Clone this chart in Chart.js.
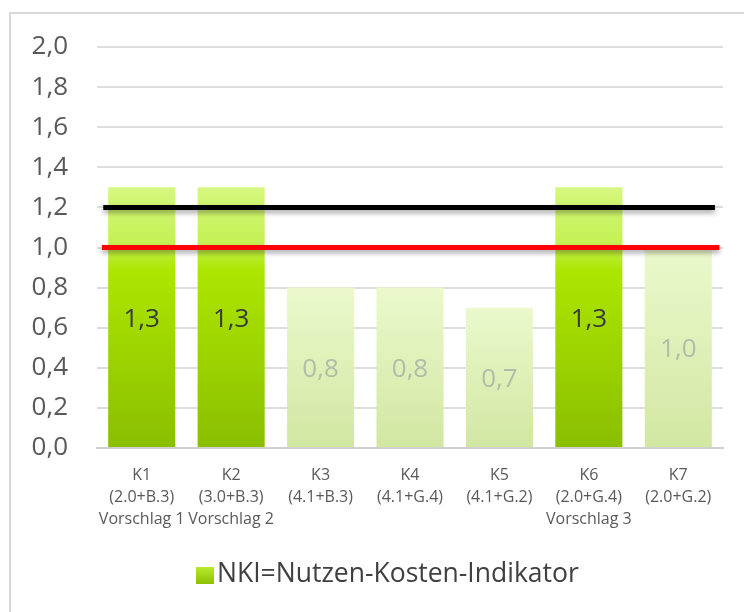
<!DOCTYPE html>
<html><head><meta charset="utf-8">
<script src="https://cdn.jsdelivr.net/npm/chart.js@4.4.1/dist/chart.umd.min.js"></script>
<style>html,body{margin:0;padding:0;background:#fff}canvas{display:block}</style>
</head><body>
<canvas id="c" width="744" height="612"></canvas>
<script>
// ---- data ----
const categories = [
  ["K1", "(2.0+B.3)", "Vorschlag 1"],
  ["K2", "(3.0+B.3)", "Vorschlag 2"],
  ["K3", "(4.1+B.3)"],
  ["K4", "(4.1+G.4)"],
  ["K5", "(4.1+G.2)"],
  ["K6", "(2.0+G.4)", "Vorschlag 3"],
  ["K7", "(2.0+G.2)"]
];
const nkiValues = [1.3, 1.3, 0.8, 0.8, 0.7, 1.3, 1.0];
const highlighted = [true, true, false, false, false, true, false];
const seriesLabel = "NKI=Nutzen-Kosten-Indikator";
const blackLineValue = 1.2;
const redLineValue = 1.0;
const blackLineSpan = [0.07, 6.91];   // in category units
const redLineSpan = [0.055, 6.96];
const yMin = 0, yMax = 2.0, yStep = 0.2;

const fmt = v => v.toFixed(1).replace('.', ',');

function barFill(c) {
  const chart = c.chart, i = c.dataIndex;
  if (!chart.chartArea || c.type !== 'data') return highlighted[i] ? '#a5dc00' : '#dff3b8';
  const ys = chart.scales.y;
  const top = ys.getPixelForValue(nkiValues[i]), bot = ys.getPixelForValue(0);
  const g = chart.ctx.createLinearGradient(0, top, 0, bot);
  if (highlighted[i]) {
    g.addColorStop(0, '#d5f780');
    g.addColorStop(0.22, '#c4f152');
    g.addColorStop(0.32, '#ace600');
    g.addColorStop(1, '#8abf00');
  } else {
    g.addColorStop(0, '#ebf9cc');
    g.addColorStop(1, '#d2e7a2');
  }
  return g;
}

const frame = {
  id: 'frame',
  beforeDraw(chart) {
    const ctx = chart.ctx;
    ctx.save();
    ctx.strokeStyle = '#d9d9d9';
    ctx.lineWidth = 2;
    ctx.strokeRect(10, 13, 800, 700);
    ctx.restore();
  }
};

const lineShadow = {
  id: 'lineShadow',
  beforeDatasetDraw(chart, args) {
    if (args.meta.type !== 'line') return;
    const ctx = chart.ctx;
    ctx.save();
    ctx.shadowColor = 'rgba(0,0,0,0.35)';
    ctx.shadowBlur = 5;
    ctx.shadowOffsetY = 3;
  },
  afterDatasetDraw(chart, args) {
    if (args.meta.type !== 'line') return;
    chart.ctx.restore();
  }
};

const valueLabels = {
  id: 'valueLabels',
  afterDatasetDraw(chart, args) {
    if (args.meta.type !== 'bar') return;
    const ctx = chart.ctx;
    ctx.save();
    ctx.font = '26px "Open Sans"';
    ctx.textAlign = 'center';
    ctx.textBaseline = 'middle';
    args.meta.data.forEach((bar, i) => {
      const p = bar.getProps(['x', 'y', 'base'], true);
      ctx.fillStyle = highlighted[i] ? '#3a3a3a' : '#b4bca8';
      ctx.fillText(fmt(nkiValues[i]), p.x, (p.y + p.base) / 2 + 2);
    });
    ctx.restore();
  }
};

const customLegend = {
  id: 'customLegend',
  afterDraw(chart) {
    const ctx = chart.ctx;
    const ds = chart.data.datasets.find(d => d.type === 'bar');
    ctx.save();
    const g = ctx.createLinearGradient(0, 567, 0, 584);
    g.addColorStop(0, '#b8ea2a');
    g.addColorStop(1, '#8cc000');
    ctx.fillStyle = g;
    ctx.fillRect(196, 567, 18, 17);
    ctx.font = '26.5px "Open Sans"';
    ctx.fillStyle = '#404040';
    ctx.textBaseline = 'middle';
    ctx.textAlign = 'left';
    ctx.fillText(ds.label, 217, 574);
    ctx.restore();
  }
};

new Chart(document.getElementById('c'), {
  data: {
    labels: categories,
    datasets: [
      {
        type: 'bar', label: seriesLabel, data: nkiValues,
        backgroundColor: barFill, borderWidth: 0, grouped: false,
        barPercentage: 0.75, categoryPercentage: 1.0, order: 2,
        xAxisID: 'x', yAxisID: 'y'
      },
      {
        type: 'line', label: 'Schwelle 1,2',
        data: [{x: blackLineSpan[0], y: blackLineValue}, {x: blackLineSpan[1], y: blackLineValue}],
        borderColor: '#000000', borderWidth: 5, pointRadius: 0, fill: false,
        borderCapStyle: 'butt', order: 1, xAxisID: 'xl', yAxisID: 'y'
      },
      {
        type: 'line', label: 'Schwelle 1,0',
        data: [{x: redLineSpan[0], y: redLineValue}, {x: redLineSpan[1], y: redLineValue}],
        borderColor: '#ff0000', borderWidth: 5, pointRadius: 0, fill: false,
        borderCapStyle: 'butt', order: 0, xAxisID: 'xl', yAxisID: 'y'
      }
    ]
  },
  options: {
    responsive: false,
    animation: false,
    devicePixelRatio: 1,
    layout: { padding: { left: 10, right: 21, top: 47, bottom: 0 } },
    plugins: { legend: { display: false }, tooltip: { enabled: false } },
    scales: {
      x: {
        type: 'category', offset: true,
        grid: { display: false, drawTicks: false },
        border: { display: true, color: '#d0d0d0', width: 2 },
        ticks: {
          color: '#595959', padding: 16, maxRotation: 0, autoSkip: false,
          font: { family: '"Open Sans"', size: 16, lineHeight: 1.375 }
        },
        afterFit(s) { s.height = 164; }
      },
      xl: {
        type: 'linear', display: false, min: 0, max: 7
      },
      y: {
        min: yMin, max: yMax,
        grid: { color: '#dedede', lineWidth: 2, drawTicks: false },
        border: { display: false },
        ticks: {
          stepSize: yStep, color: '#595959', padding: 29,
          font: { family: '"Open Sans"', size: 26 },
          callback: v => fmt(v)
        },
        afterFit(s) { s.width = 87; }
      }
    }
  },
  plugins: [frame, lineShadow, valueLabels, customLegend]
});
</script>
</body></html>
